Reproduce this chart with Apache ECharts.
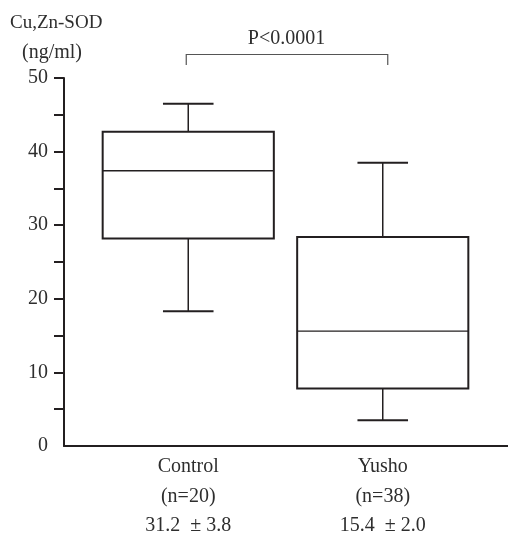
<!DOCTYPE html>
<html>
<head>
<meta charset="utf-8">
<script src="https://cdn.jsdelivr.net/npm/echarts@6/dist/echarts.min.js"></script>
<style>
  html, body { margin: 0; padding: 0; background: #fff; }
  #chart { width: 508px; height: 534px; }
</style>
</head>
<body>
<div id="chart"></div>
<script>
// Serum Cu,Zn-SOD (ng/ml): box-and-whisker summary per group
const categories = ['Control', 'Yusho'];
const groupN = [20, 38];
const groupMean = ['31.2', '15.4'];
const groupSE = ['3.8', '2.0'];
const whiskerLow = [18.3, 3.5];
const quartile1 = [28.2, 7.8];
const median = [37.4, 15.6];
const quartile3 = [42.7, 28.4];
const whiskerHigh = [46.5, 38.5];
const yTicks = [0, 10, 20, 30, 40, 50];
const yMinorTicks = [5, 15, 25, 35, 45];
const pValueText = 'P<0.0001';

const INK = '#231f20';
const TEXT = '#2e2e2e';
const FONT = '"Liberation Serif", "DejaVu Serif", serif';

const boxData = categories.map((c, i) => [i, whiskerLow[i], quartile1[i], median[i], quartile3[i], whiskerHigh[i]]);
const xLabels = categories.map((c, i) => c + '\n(n=' + groupN[i] + ')\n' + groupMean[i] + '  ± ' + groupSE[i]);

const chart = echarts.init(document.getElementById('chart'), null, { renderer: 'canvas' });

function renderBox(params, api) {
  const x = api.value(0);
  const lo = api.coord([x, api.value(1)]);
  const q1 = api.coord([x, api.value(2)]);
  const md = api.coord([x, api.value(3)]);
  const q3 = api.coord([x, api.value(4)]);
  const hi = api.coord([x, api.value(5)]);
  const band = api.size([1, 0])[0];
  const halfBox = band * 0.44;
  const halfCap = band * 0.13;
  const cx = lo[0];
  return {
    type: 'group',
    children: [
      { type: 'line', shape: { x1: cx, y1: hi[1], x2: cx, y2: q3[1] }, style: { stroke: INK, lineWidth: 1.5 } },
      { type: 'line', shape: { x1: cx, y1: q1[1], x2: cx, y2: lo[1] }, style: { stroke: INK, lineWidth: 1.5 } },
      { type: 'line', shape: { x1: cx - halfCap, y1: hi[1], x2: cx + halfCap, y2: hi[1] }, style: { stroke: INK, lineWidth: 2 } },
      { type: 'line', shape: { x1: cx - halfCap, y1: lo[1], x2: cx + halfCap, y2: lo[1] }, style: { stroke: INK, lineWidth: 2 } },
      { type: 'rect', shape: { x: cx - halfBox, y: q3[1], width: halfBox * 2, height: q1[1] - q3[1] },
        style: { fill: 'none', stroke: INK, lineWidth: 2 } },
      { type: 'line', shape: { x1: cx - halfBox, y1: md[1], x2: cx + halfBox, y2: md[1] }, style: { stroke: INK, lineWidth: 1.3 } }
    ]
  };
}

const gridTop = 78;
const gridBottom = 88;

chart.setOption({
  animation: false,
  backgroundColor: '#fff',
  grid: [
    { left: 64, right: 0, top: gridTop, bottom: gridBottom, outerBoundsMode: 'none', containLabel: false },
    { left: 91, width: 389, top: gridTop, bottom: gridBottom, outerBoundsMode: 'none', containLabel: false }
  ],
  xAxis: [
    {
      gridIndex: 0, type: 'category', data: [''],
      axisLine: { lineStyle: { color: INK, width: 2 } },
      axisTick: { show: false }, axisLabel: { show: false }
    },
    {
      gridIndex: 1, type: 'category', data: categories,
      axisLine: { show: false }, axisTick: { show: false },
      axisLabel: {
        margin: 6, formatter: (v, i) => xLabels[i],
        color: TEXT, fontFamily: FONT, fontSize: 20, lineHeight: 29.5
      }
    }
  ],
  yAxis: [
    {
      gridIndex: 0, type: 'value', min: 0, max: 50, interval: 10,
      splitLine: { show: false },
      axisLine: { show: true, lineStyle: { color: INK, width: 2 } },
      axisTick: { show: true, length: 10, lineStyle: { color: INK, width: 2 },
        customValues: yMinorTicks.concat(yTicks.slice(1)) },
      axisLabel: { margin: 16, color: TEXT, fontFamily: FONT, fontSize: 20, padding: [4, 0, 0, 0], customValues: yTicks }
    },
    {
      gridIndex: 1, type: 'value', min: 0, max: 50, show: false
    }
  ],
  series: [{
    type: 'custom',
    xAxisIndex: 1, yAxisIndex: 1,
    data: boxData,
    renderItem: renderBox,
    clip: false
  }]
});

// Axis title and the significance bracket between the two groups
const pA = chart.convertToPixel({ xAxisIndex: 1 }, categories[0]);
const pB = chart.convertToPixel({ xAxisIndex: 1 }, categories[1]);
const bracketY = 54.5;
const bracketTip = 65;
chart.setOption({
  graphic: [
    { type: 'text', left: 10, top: 14, style: { text: 'Cu,Zn-SOD', font: '19px ' + FONT, fill: TEXT } },
    { type: 'text', left: 22, top: 43, style: { text: '(ng/ml)', font: '20px ' + FONT, fill: TEXT } },
    {
      type: 'polyline',
      shape: { points: [[pA - 2, bracketTip], [pA - 2, bracketY], [pB + 5, bracketY], [pB + 5, bracketTip]] },
      style: { stroke: '#555', lineWidth: 1.2, fill: null }
    },
    {
      type: 'text', x: (pA + pB) / 2 + 1, y: 39,
      style: { text: pValueText, font: '20px ' + FONT, fill: TEXT, align: 'center', verticalAlign: 'middle' }
    }
  ]
});
</script>
</body>
</html>
